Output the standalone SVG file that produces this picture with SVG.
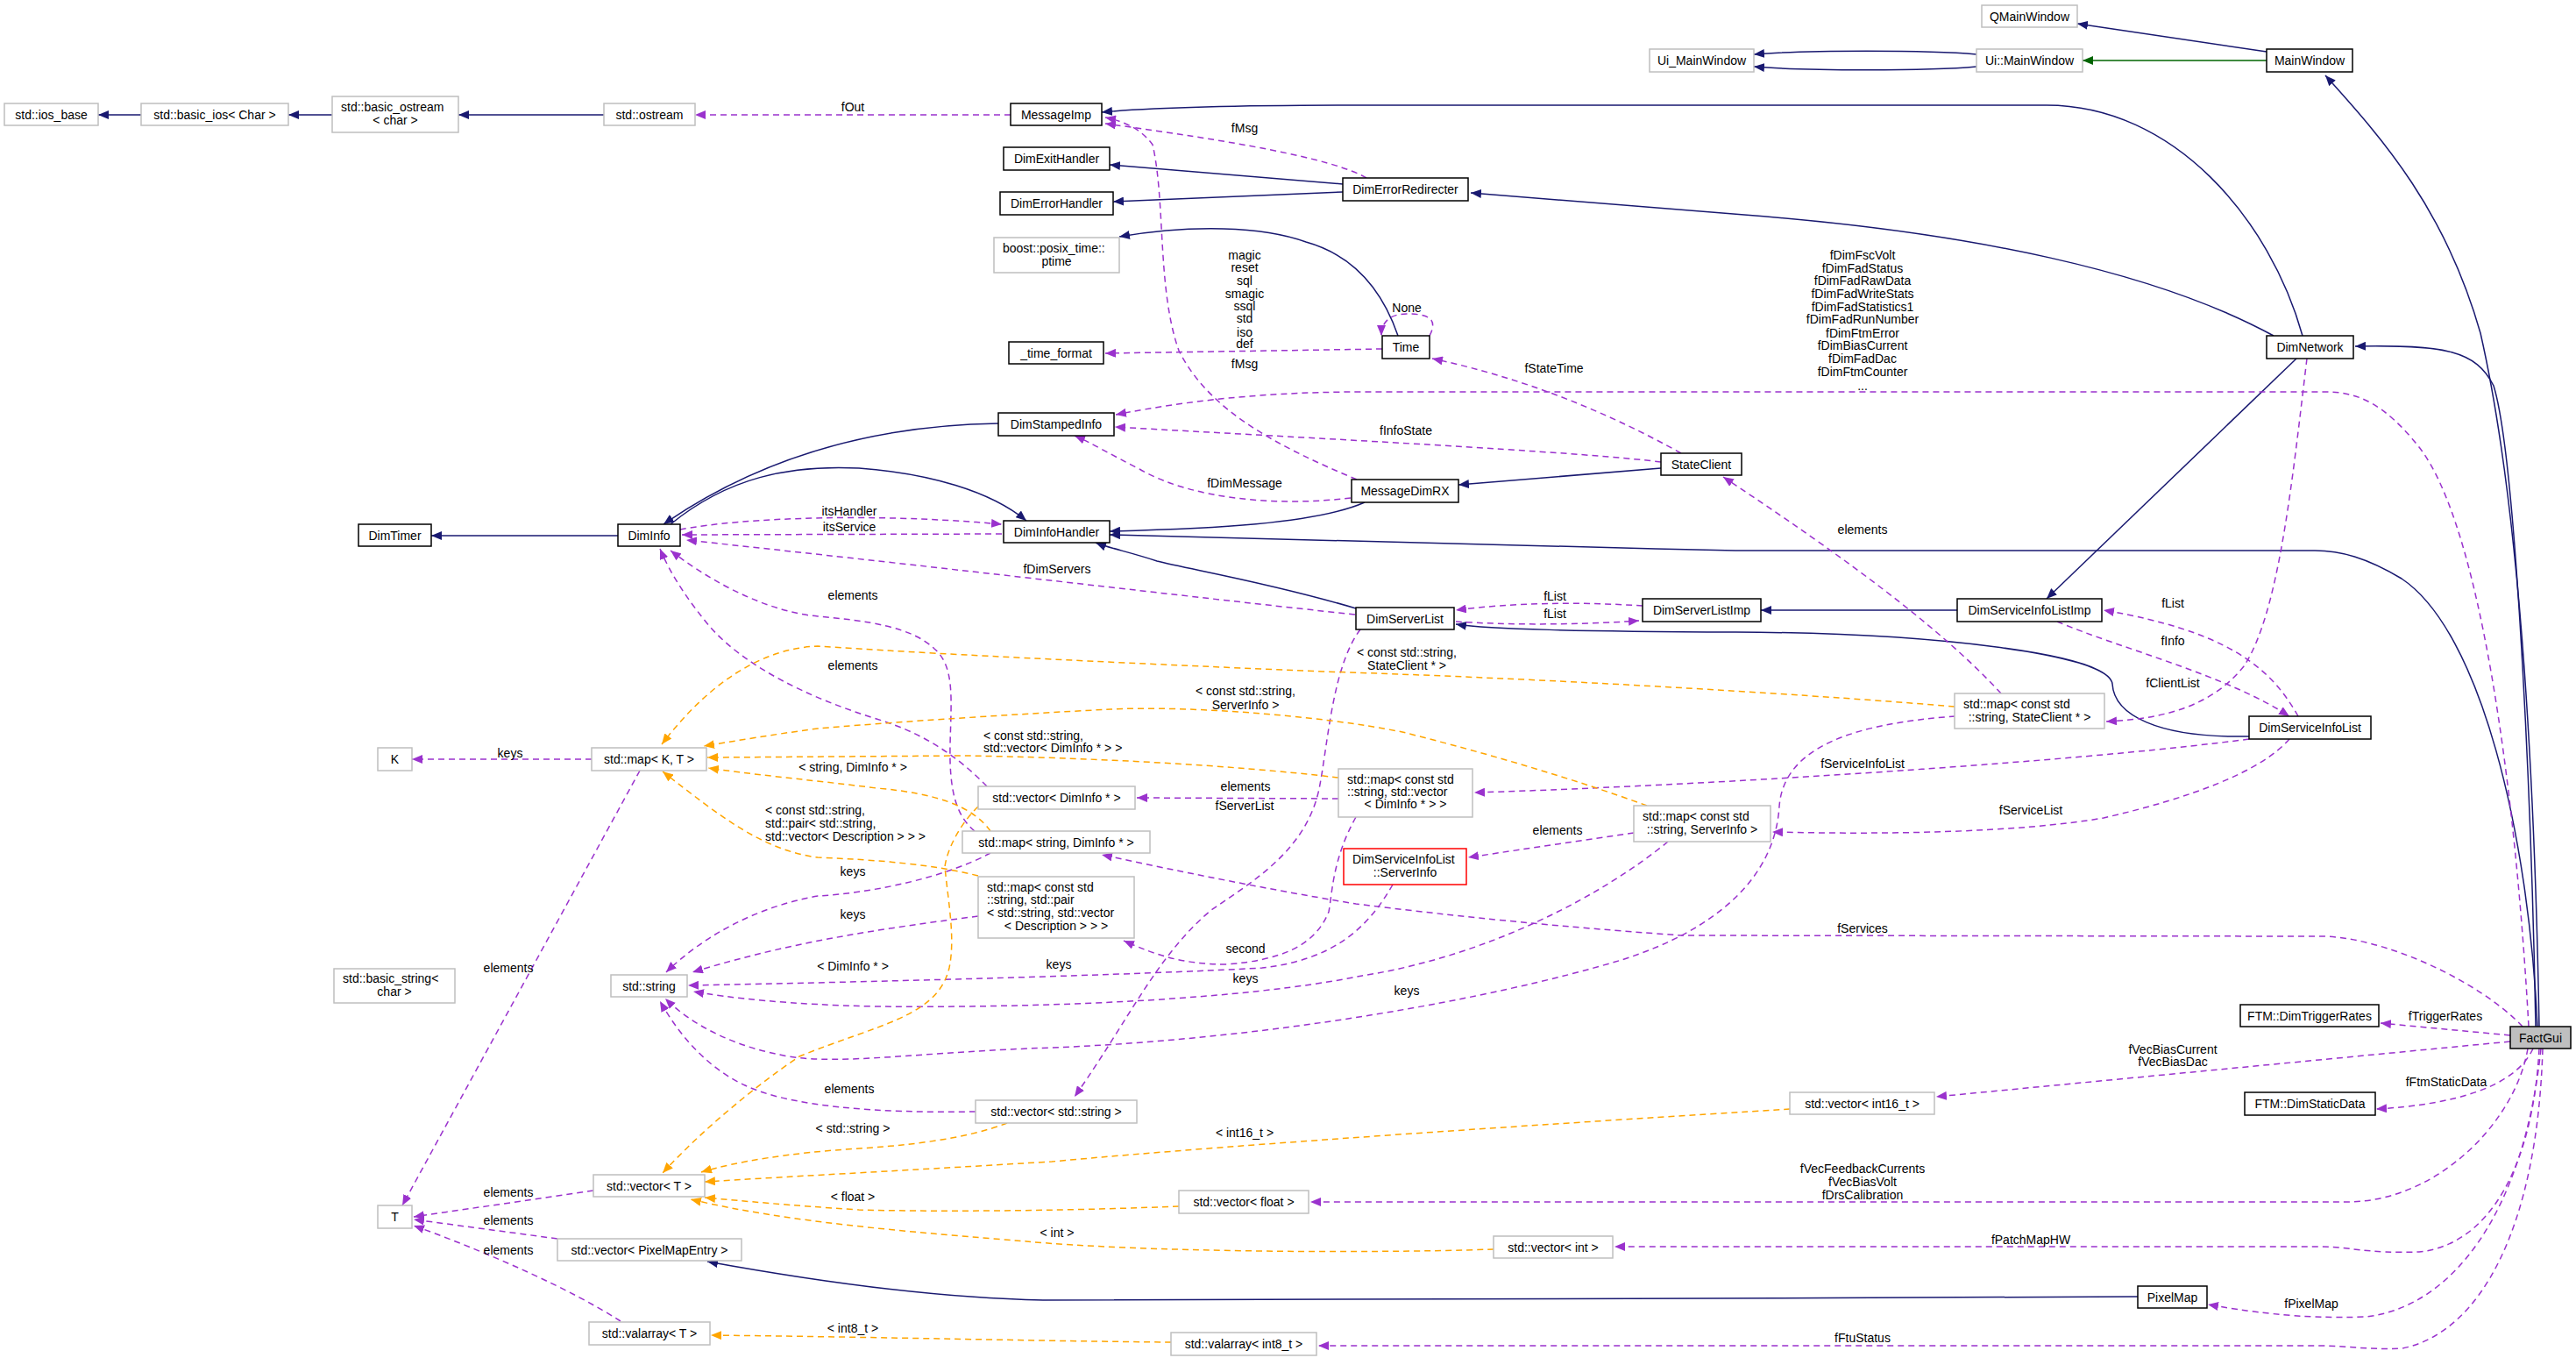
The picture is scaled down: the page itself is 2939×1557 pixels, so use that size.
<svg xmlns="http://www.w3.org/2000/svg" width="2939" height="1557" viewBox="0 0 2939 1557">
<style>
text{font-family:"Liberation Sans",Arial,sans-serif;font-size:14px;fill:#000}
.c{text-anchor:middle}
.s{text-anchor:start}
.d rect{fill:#fff;stroke:#000;stroke-width:1.5}
.u rect{fill:#fff;stroke:#bfbfbf;stroke-width:1.5}
.r rect{fill:#fff;stroke:#ff0000;stroke-width:1.5}
.g rect{fill:#bfbfbf;stroke:#000;stroke-width:1.5}
.inh{fill:none;stroke:#191970;stroke-width:1.5;marker-end:url(#ab)}
.grn{fill:none;stroke:#006400;stroke-width:1.5;marker-end:url(#ag)}
.use{fill:none;stroke:#9a32cd;stroke-width:1.5;stroke-dasharray:7,5;marker-end:url(#ap)}
.tpl{fill:none;stroke:#ffa500;stroke-width:1.5;stroke-dasharray:7,5;marker-end:url(#ao)}
</style>
<defs>
<marker id="ab" viewBox="0 0 12 10" refX="12" refY="5" markerWidth="12" markerHeight="10" orient="auto" markerUnits="userSpaceOnUse"><path d="M0,0L12,5L0,10z" fill="#191970"/></marker>
<marker id="ag" viewBox="0 0 12 10" refX="12" refY="5" markerWidth="12" markerHeight="10" orient="auto" markerUnits="userSpaceOnUse"><path d="M0,0L12,5L0,10z" fill="#006400"/></marker>
<marker id="ap" viewBox="0 0 12 10" refX="12" refY="5" markerWidth="12" markerHeight="10" orient="auto" markerUnits="userSpaceOnUse"><path d="M0,0L12,5L0,10z" fill="#9a32cd"/></marker>
<marker id="ao" viewBox="0 0 12 10" refX="12" refY="5" markerWidth="12" markerHeight="10" orient="auto" markerUnits="userSpaceOnUse"><path d="M0,0L12,5L0,10z" fill="#ffa500"/></marker>
</defs>
<rect x="0" y="0" width="2939" height="1557" fill="#fff"/>

<g id="edges">
<!-- inheritance -->
<path class="inh" d="M161,131L112,131"/>
<path class="inh" d="M379,131L329,131"/>
<path class="inh" d="M689,131L523,131"/>
<path class="inh" d="M1532,210L1266,188"/>
<path class="inh" d="M1532,219L1270,230"/>
<path class="inh" d="M1595,383C1575,325 1540,290 1490,276C1440,258 1360,256 1277,270"/>
<path class="inh" d="M2627,383C2590,250 2480,120 2335,120L1554,120C1400,120 1300,124 1257,128"/>
<path class="inh" d="M2594,383C2460,310 2250,265 1990,245L1678,220"/>
<path class="inh" d="M2620,409L2335,683"/>
<path class="inh" d="M2233,696L2009,696"/>
<path class="inh" d="M2566,840C2460,842 2412,815 2410,780C2405,745 2200,722 1980,721C1800,720 1700,718 1661,712"/>
<path class="inh" d="M2897,1171C2893,950 2880,600 2830,380C2790,240 2720,160 2653,86"/>
<path class="inh" d="M2893,1171C2888,900 2870,520 2845,440C2825,400 2790,393 2687,395"/>
<path class="inh" d="M2895,1171C2885,950 2830,720 2740,660C2700,636 2670,628 2641,628L1980,628C1700,622 1400,612 1266,610"/>
<path class="inh" d="M1547,694C1450,665 1360,650 1320,640C1290,630 1265,625 1250,619"/>
<path class="inh" d="M1557,573C1500,598 1380,603 1266,606"/>
<path class="inh" d="M1895,534L1664,553"/>
<path class="inh" d="M1139,483C1000,485 870,520 757,598"/>
<path class="inh" d="M765,598C830,545 900,530 980,534C1060,540 1130,560 1171,594"/>
<path class="inh" d="M705,611L492,611"/>
<path class="inh" d="M2586,59L2370,27"/>
<path class="grn" d="M2586,69L2376,69"/>
<path class="inh" d="M2255,62C2200,57 2060,57 2001,62"/>
<path class="inh" d="M2255,76C2200,81 2060,81 2001,76"/>
<path class="inh" d="M2439,1479C2000,1481 1400,1483 1190,1483C1080,1481 950,1465 807,1439"/>
<!-- usage -->
<path class="use" d="M1153,131L793,131"/>
<path class="use" d="M1559,203C1520,180 1400,160 1261,141"/>
<path class="use" d="M1548,547C1460,510 1380,470 1345,400C1320,330 1330,230 1315,165C1300,145 1280,138 1261,134"/>
<path class="use" d="M1577,398L1261,403"/>
<path class="use" d="M1631,383C1642,362 1627,358 1605,358C1585,358 1576,368 1576,383"/>
<path class="use" d="M1918,517Q1780,440 1634,409"/>
<path class="use" d="M1895,527C1800,515 1500,500 1272,487"/>
<path class="use" d="M2885,1171C2870,900 2830,600 2760,510C2720,460 2690,447 2653,447L1554,447C1420,447 1330,462 1273,473"/>
<path class="use" d="M1541,568C1460,578 1360,570 1300,535C1270,520 1245,505 1226,497"/>
<path class="use" d="M1874,691C1800,686 1720,688 1661,696"/>
<path class="use" d="M1661,709C1720,713 1800,713 1870,708"/>
<path class="use" d="M2622,817C2590,760 2540,720 2400,696"/>
<path class="use" d="M2347,709C2420,740 2540,770 2612,817"/>
<path class="use" d="M2632,409C2615,550 2600,700 2560,760C2520,810 2460,820 2403,823"/>
<path class="use" d="M2283,791C2200,700 2050,600 1966,544"/>
<path class="use" d="M776,604C850,590 1000,585 1143,598"/>
<path class="use" d="M1143,609L778,610"/>
<path class="use" d="M1546,701C1350,680 1100,650 783,616"/>
<path class="use" d="M1112,948C1090,930 1083,900 1084,850C1085,800 1090,760 1066,740C1040,715 990,708 933,703C880,698 820,670 765,628"/>
<path class="use" d="M1126,897C1090,860 1050,835 1000,820C920,795 850,760 810,715C785,685 765,655 753,626"/>
<path class="use" d="M675,866L470,866"/>
<path class="use" d="M730,879L459,1375"/>
<path class="use" d="M677,1358L472,1388"/>
<path class="use" d="M636,1413L472,1391"/>
<path class="use" d="M708,1507C650,1470 560,1430 472,1398"/>
<path class="use" d="M1130,973C1080,1000 1000,1018 933,1022C860,1035 800,1070 760,1109"/>
<path class="use" d="M1116,1045C1000,1060 900,1075 790,1109"/>
<path class="use" d="M1589,1009C1560,1060 1520,1095 1440,1104C1300,1112 1000,1120 785,1124"/>
<path class="use" d="M1903,960C1830,1020 1700,1090 1554,1113C1420,1140 1200,1150 1000,1148C900,1146 830,1138 791,1131"/>
<path class="use" d="M2231,817C2120,825 2035,850 2030,920C2025,1000 1960,1060 1850,1095C1700,1140 1450,1185 1200,1195C1050,1200 960,1215 900,1205C840,1195 790,1170 759,1139"/>
<path class="use" d="M1113,1268C1000,1270 900,1262 850,1238C815,1222 780,1190 753,1142"/>
<path class="use" d="M1552,718C1520,760 1515,850 1505,900C1490,970 1430,1005 1382,1038C1320,1090 1290,1160 1226,1251"/>
<path class="use" d="M1527,911L1297,910"/>
<path class="use" d="M1547,932C1520,980 1520,1020 1516,1040C1500,1080 1460,1095 1400,1100C1350,1100 1320,1090 1282,1073"/>
<path class="use" d="M1864,950L1675,978"/>
<path class="use" d="M2566,843C2400,865 2100,885 1900,895C1800,900 1720,903 1682,904"/>
<path class="use" d="M2612,843C2580,880 2500,910 2400,933C2300,950 2150,952 2022,949"/>
<path class="use" d="M2878,1171C2830,1120 2720,1068 2647,1068L1918,1067C1820,1060 1700,1050 1547,1031C1450,1015 1350,995 1257,975"/>
<path class="use" d="M2864,1181L2716,1167"/>
<path class="use" d="M2864,1188L2209,1251"/>
<path class="use" d="M2890,1196C2870,1240 2800,1260 2711,1265"/>
<path class="use" d="M2884,1196C2870,1280 2780,1371 2678,1371L1495,1371"/>
<path class="use" d="M2897,1196C2890,1330 2840,1420 2760,1428C2700,1430 2680,1422 2647,1422L1842,1422"/>
<path class="use" d="M2899,1196C2880,1380 2800,1490 2700,1502C2620,1505 2560,1495 2519,1488"/>
<path class="use" d="M2901,1196C2895,1400 2830,1520 2741,1538C2700,1540 2680,1535 2647,1535L1504,1535"/>
<!-- template instances -->
<path class="tpl" d="M2230,806C2100,795 1800,775 1509,766C1250,755 1050,745 933,737C860,740 800,790 755,849"/>
<path class="tpl" d="M1879,919C1800,890 1700,860 1600,835C1500,815 1350,805 1267,809C1150,815 1000,825 933,831C880,838 840,845 803,851"/>
<path class="tpl" d="M1527,887C1400,872 1235,864 1100,862L807,864"/>
<path class="tpl" d="M1130,948C1110,920 1070,905 1000,899C930,890 870,885 808,876"/>
<path class="tpl" d="M1116,999C1060,985 1000,981 933,978C870,970 820,930 756,880"/>
<path class="tpl" d="M1116,920C1095,940 1080,970 1078,989C1082,1030 1090,1070 1083,1104C1070,1160 1000,1169 912,1205C860,1240 800,1290 756,1338"/>
<path class="tpl" d="M1149,1281C1100,1300 1030,1307 980,1310C900,1315 840,1325 800,1337"/>
<path class="tpl" d="M2042,1265C1800,1280 1426,1304 1200,1325C1000,1337 900,1342 804,1348"/>
<path class="tpl" d="M1345,1376C1200,1382 1050,1382 980,1380C900,1375 850,1370 804,1366"/>
<path class="tpl" d="M1704,1425C1550,1430 1300,1428 1171,1416C1050,1406 900,1395 788,1368"/>
<path class="tpl" d="M1336,1531C1200,1530 1000,1525 811,1523"/>
</g>

<g id="edge-labels">
<text class="c" x="973" y="127">fOut</text>
<text class="c" x="1420" y="151">fMsg</text>
<text class="c" x="1420" y="296">magic</text>
<text class="c" x="1420" y="310">reset</text>
<text class="c" x="1420" y="325">sql</text>
<text class="c" x="1420" y="340">smagic</text>
<text class="c" x="1420" y="354">ssql</text>
<text class="c" x="1420" y="368">std</text>
<text class="c" x="1420" y="384">iso</text>
<text class="c" x="1420" y="397">def</text>
<text class="c" x="1420" y="420">fMsg</text>
<text class="c" x="1605" y="356">None</text>
<text class="c" x="1773" y="425">fStateTime</text>
<text class="c" x="1604" y="496">fInfoState</text>
<text class="c" x="2125" y="296">fDimFscVolt</text>
<text class="c" x="2125" y="311">fDimFadStatus</text>
<text class="c" x="2125" y="325">fDimFadRawData</text>
<text class="c" x="2125" y="340">fDimFadWriteStats</text>
<text class="c" x="2125" y="355">fDimFadStatistics1</text>
<text class="c" x="2125" y="369">fDimFadRunNumber</text>
<text class="c" x="2125" y="385">fDimFtmError</text>
<text class="c" x="2125" y="399">fDimBiasCurrent</text>
<text class="c" x="2125" y="414">fDimFadDac</text>
<text class="c" x="2125" y="429">fDimFtmCounter</text>
<text class="c" x="2125" y="445">...</text>
<text class="c" x="1420" y="556">fDimMessage</text>
<text class="c" x="969" y="588">itsHandler</text>
<text class="c" x="969" y="606">itsService</text>
<text class="c" x="1206" y="654">fDimServers</text>
<text class="c" x="1774" y="685">fList</text>
<text class="c" x="1774" y="705">fList</text>
<text class="c" x="2125" y="609">elements</text>
<text class="c" x="2479" y="693">fList</text>
<text class="c" x="2479" y="736">fInfo</text>
<text class="c" x="2479" y="784">fClientList</text>
<text class="c" x="973" y="684">elements</text>
<text class="c" x="973" y="764">elements</text>
<text class="c" x="1605" y="749">&lt; const std::string,</text>
<text class="c" x="1605" y="764">StateClient * &gt;</text>
<text class="c" x="1421" y="793">&lt; const std::string,</text>
<text class="c" x="1421" y="809">ServerInfo &gt;</text>
<text class="s" x="1122" y="844">&lt; const std::string,</text>
<text class="s" x="1122" y="858">std::vector&lt; DimInfo * &gt; &gt;</text>
<text class="c" x="973" y="880">&lt; string, DimInfo * &gt;</text>
<text class="c" x="582" y="864">keys</text>
<text class="c" x="1421" y="902">elements</text>
<text class="c" x="1420" y="924">fServerList</text>
<text class="c" x="1777" y="952">elements</text>
<text class="c" x="2125" y="876">fServiceInfoList</text>
<text class="c" x="2317" y="929">fServiceList</text>
<text class="s" x="873" y="929">&lt; const std::string,</text>
<text class="s" x="873" y="944">std::pair&lt; std::string,</text>
<text class="s" x="873" y="959">std::vector&lt; Description &gt; &gt; &gt;</text>
<text class="c" x="973" y="999">keys</text>
<text class="c" x="973" y="1048">keys</text>
<text class="c" x="2125" y="1064">fServices</text>
<text class="c" x="1421" y="1087">second</text>
<text class="c" x="1208" y="1105">keys</text>
<text class="c" x="1421" y="1121">keys</text>
<text class="c" x="1605" y="1135">keys</text>
<text class="c" x="973" y="1107">&lt; DimInfo * &gt;</text>
<text class="c" x="580" y="1109">elements</text>
<text class="c" x="969" y="1247">elements</text>
<text class="c" x="973" y="1292">&lt; std::string &gt;</text>
<text class="c" x="1420" y="1297">&lt; int16_t &gt;</text>
<text class="c" x="973" y="1370">&lt; float &gt;</text>
<text class="c" x="1206" y="1411">&lt; int &gt;</text>
<text class="c" x="973" y="1520">&lt; int8_t &gt;</text>
<text class="c" x="580" y="1365">elements</text>
<text class="c" x="580" y="1397">elements</text>
<text class="c" x="580" y="1431">elements</text>
<text class="c" x="2790" y="1164">fTriggerRates</text>
<text class="c" x="2479" y="1202">fVecBiasCurrent</text>
<text class="c" x="2479" y="1216">fVecBiasDac</text>
<text class="c" x="2791" y="1239">fFtmStaticData</text>
<text class="c" x="2125" y="1338">fVecFeedbackCurrents</text>
<text class="c" x="2125" y="1353">fVecBiasVolt</text>
<text class="c" x="2125" y="1368">fDrsCalibration</text>
<text class="c" x="2317" y="1419">fPatchMapHW</text>
<text class="c" x="2637" y="1492">fPixelMap</text>
<text class="c" x="2125" y="1531">fFtuStatus</text>
</g>

<g id="n-ios_base" class="u"><rect x="5" y="118" width="107" height="25"/><text class="c" x="58.5" y="135.5">std::ios_base</text></g>
<g id="n-basic_ios" class="u"><rect x="161" y="118" width="168" height="25"/><text class="c" x="245" y="135.5">std::basic_ios&lt; Char &gt;</text></g>
<g id="n-basic_ostream" class="u"><rect x="379" y="110" width="144" height="41"/><text class="s" x="389" y="127">std::basic_ostream</text><text class="c" x="451" y="142">&lt; char &gt;</text></g>
<g id="n-ostream" class="u"><rect x="689" y="118" width="104" height="25"/><text class="c" x="741" y="135.5">std::ostream</text></g>
<g id="n-MessageImp" class="d"><rect x="1153" y="118" width="104" height="25"/><text class="c" x="1205" y="135.5">MessageImp</text></g>
<g id="n-DimExitHandler" class="d"><rect x="1145" y="168" width="121" height="26"/><text class="c" x="1205.5" y="186">DimExitHandler</text></g>
<g id="n-DimErrorHandler" class="d"><rect x="1141" y="219" width="129" height="26"/><text class="c" x="1205.5" y="237">DimErrorHandler</text></g>
<g id="n-DimErrorRedirecter" class="d"><rect x="1532" y="203" width="143" height="26"/><text class="c" x="1603.5" y="221">DimErrorRedirecter</text></g>
<g id="n-ptime" class="u"><rect x="1134" y="271" width="143" height="40"/><text class="s" x="1144" y="288">boost::posix_time::</text><text class="c" x="1205.5" y="303">ptime</text></g>
<g id="n-time_format" class="d"><rect x="1151" y="390" width="108" height="25"/><text class="c" x="1205" y="407.5">_time_format</text></g>
<g id="n-Time" class="d"><rect x="1577" y="383" width="54" height="26"/><text class="c" x="1604" y="401">Time</text></g>
<g id="n-DimStampedInfo" class="d"><rect x="1139" y="471" width="132" height="26"/><text class="c" x="1205" y="489">DimStampedInfo</text></g>
<g id="n-StateClient" class="d"><rect x="1895" y="517" width="92" height="25"/><text class="c" x="1941" y="534.5">StateClient</text></g>
<g id="n-MessageDimRX" class="d"><rect x="1542" y="547" width="122" height="26"/><text class="c" x="1603" y="565">MessageDimRX</text></g>
<g id="n-DimInfoHandler" class="d"><rect x="1145" y="594" width="121" height="25"/><text class="c" x="1205.5" y="611.5">DimInfoHandler</text></g>
<g id="n-DimInfo" class="d"><rect x="705" y="598" width="71" height="25"/><text class="c" x="740.5" y="615.5">DimInfo</text></g>
<g id="n-DimTimer" class="d"><rect x="409" y="598" width="83" height="25"/><text class="c" x="450.5" y="615.5">DimTimer</text></g>
<g id="n-DimServerList" class="d"><rect x="1547" y="693" width="112" height="25"/><text class="c" x="1603" y="710.5">DimServerList</text></g>
<g id="n-DimServerListImp" class="d"><rect x="1874" y="683" width="135" height="26"/><text class="c" x="1941.5" y="701">DimServerListImp</text></g>
<g id="n-DimServiceInfoListImp" class="d"><rect x="2233" y="683" width="165" height="26"/><text class="c" x="2315.5" y="701">DimServiceInfoListImp</text></g>
<g id="n-DimServiceInfoList" class="d"><rect x="2566" y="817" width="139" height="26"/><text class="c" x="2635.5" y="835">DimServiceInfoList</text></g>
<g id="n-DimNetwork" class="d"><rect x="2586" y="383" width="99" height="26"/><text class="c" x="2635.5" y="401">DimNetwork</text></g>
<g id="n-MainWindow" class="d"><rect x="2586" y="56" width="98" height="26"/><text class="c" x="2635" y="74">MainWindow</text></g>
<g id="n-Ui-MainWindow" class="u"><rect x="2255" y="56" width="121" height="26"/><text class="c" x="2315.5" y="74">Ui::MainWindow</text></g>
<g id="n-Ui_MainWindow" class="u"><rect x="1882" y="56" width="119" height="26"/><text class="c" x="1941.5" y="74">Ui_MainWindow</text></g>
<g id="n-QMainWindow" class="u"><rect x="2261" y="6" width="109" height="25"/><text class="c" x="2315.5" y="23.5">QMainWindow</text></g>
<g id="n-K" class="u"><rect x="431" y="853" width="39" height="26"/><text class="c" x="450.5" y="871">K</text></g>
<g id="n-mapKT" class="u"><rect x="675" y="853" width="131" height="26"/><text class="c" x="740.5" y="871">std::map&lt; K, T &gt;</text></g>
<g id="n-T" class="u"><rect x="431" y="1375" width="39" height="26"/><text class="c" x="450.5" y="1393">T</text></g>
<g id="n-basic_string" class="u"><rect x="381" y="1105" width="138" height="39"/><text class="s" x="391" y="1121">std::basic_string&lt;</text><text class="c" x="450" y="1136">char &gt;</text></g>
<g id="n-string" class="u"><rect x="697" y="1112" width="87" height="25"/><text class="c" x="740.5" y="1129.5">std::string</text></g>
<g id="n-vectorT" class="u"><rect x="677" y="1340" width="127" height="25"/><text class="c" x="740.5" y="1357.5">std::vector&lt; T &gt;</text></g>
<g id="n-vectorPixelMapEntry" class="u"><rect x="636" y="1413" width="210" height="25"/><text class="c" x="741" y="1430.5">std::vector&lt; PixelMapEntry &gt;</text></g>
<g id="n-valarrayT" class="u"><rect x="672" y="1508" width="138" height="26"/><text class="c" x="741" y="1526">std::valarray&lt; T &gt;</text></g>
<g id="n-vectorDimInfo" class="u"><rect x="1116" y="897" width="179" height="26"/><text class="c" x="1205.5" y="915">std::vector&lt; DimInfo * &gt;</text></g>
<g id="n-mapStringDimInfo" class="u"><rect x="1098" y="948" width="214" height="25"/><text class="c" x="1205" y="965.5">std::map&lt; string, DimInfo * &gt;</text></g>
<g id="n-mapPair" class="u"><rect x="1116" y="1000" width="178" height="70"/><text class="s" x="1126" y="1017">std::map&lt; const std</text><text class="s" x="1126" y="1031">::string, std::pair</text><text class="s" x="1126" y="1046">&lt; std::string, std::vector</text><text class="c" x="1205" y="1061">&lt; Description &gt; &gt; &gt;</text></g>
<g id="n-mapVec" class="u"><rect x="1527" y="877" width="153" height="55"/><text class="s" x="1537" y="894">std::map&lt; const std</text><text class="s" x="1537" y="908">::string, std::vector</text><text class="c" x="1603.5" y="922">&lt; DimInfo * &gt; &gt;</text></g>
<g id="n-ServerInfo" class="r"><rect x="1533" y="968" width="140" height="41"/><text class="s" x="1543" y="985">DimServiceInfoList</text><text class="c" x="1603" y="1000">::ServerInfo</text></g>
<g id="n-mapServerInfo" class="u"><rect x="1864" y="919" width="156" height="41"/><text class="s" x="1874" y="936">std::map&lt; const std</text><text class="c" x="1942" y="951">::string, ServerInfo &gt;</text></g>
<g id="n-mapStateClient" class="u"><rect x="2230" y="791" width="171" height="40"/><text class="s" x="2240" y="808">std::map&lt; const std</text><text class="c" x="2315.5" y="823">::string, StateClient * &gt;</text></g>
<g id="n-vectorString" class="u"><rect x="1113" y="1255" width="184" height="26"/><text class="c" x="1205" y="1273">std::vector&lt; std::string &gt;</text></g>
<g id="n-vectorInt16" class="u"><rect x="2042" y="1246" width="165" height="25"/><text class="c" x="2124.5" y="1263.5">std::vector&lt; int16_t &gt;</text></g>
<g id="n-vectorFloat" class="u"><rect x="1345" y="1358" width="148" height="26"/><text class="c" x="1419" y="1376">std::vector&lt; float &gt;</text></g>
<g id="n-vectorInt" class="u"><rect x="1704" y="1410" width="136" height="25"/><text class="c" x="1772" y="1427.5">std::vector&lt; int &gt;</text></g>
<g id="n-valarrayInt8" class="u"><rect x="1336" y="1520" width="166" height="26"/><text class="c" x="1419" y="1538">std::valarray&lt; int8_t &gt;</text></g>
<g id="n-DimTriggerRates" class="d"><rect x="2556" y="1146" width="158" height="25"/><text class="c" x="2635" y="1163.5">FTM::DimTriggerRates</text></g>
<g id="n-DimStaticData" class="d"><rect x="2561" y="1246" width="149" height="26"/><text class="c" x="2635.5" y="1264">FTM::DimStaticData</text></g>
<g id="n-PixelMap" class="d"><rect x="2439" y="1467" width="79" height="25"/><text class="c" x="2478.5" y="1484.5">PixelMap</text></g>
<g id="n-FactGui" class="g"><rect x="2864" y="1171" width="69" height="25"/><text class="c" x="2898.5" y="1188.5">FactGui</text></g>
</svg>
